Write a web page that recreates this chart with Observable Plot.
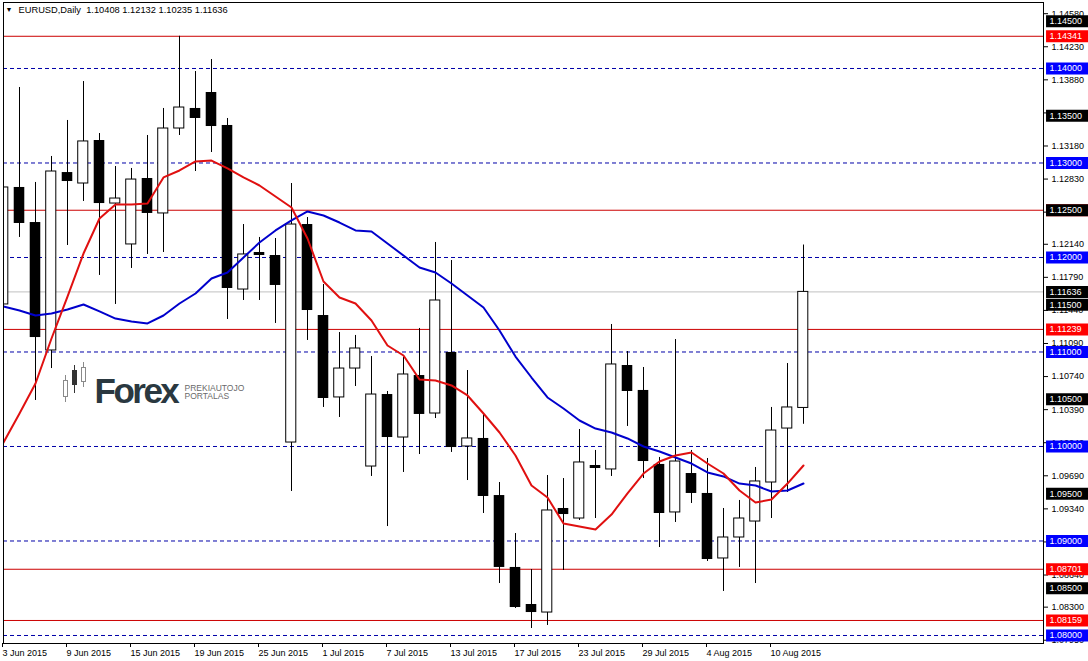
<!DOCTYPE html>
<html><head><meta charset="utf-8">
<script src="https://cdn.jsdelivr.net/npm/d3@7"></script>
<script src="https://cdn.jsdelivr.net/npm/@observablehq/plot@0.6"></script>
<style>
html,body{margin:0;padding:0;background:#fff;}
#chart svg{display:block;}
</style></head><body><div id="chart"></div>
<script>
const dates = ["2015-06-03","2015-06-04","2015-06-05","2015-06-08","2015-06-09","2015-06-10","2015-06-11","2015-06-12","2015-06-15","2015-06-16","2015-06-17","2015-06-18","2015-06-19","2015-06-22","2015-06-23","2015-06-24","2015-06-25","2015-06-26","2015-06-29","2015-06-30","2015-07-01","2015-07-02","2015-07-03","2015-07-06","2015-07-07","2015-07-08","2015-07-09","2015-07-10","2015-07-13","2015-07-14","2015-07-15","2015-07-16","2015-07-17","2015-07-20","2015-07-21","2015-07-22","2015-07-23","2015-07-24","2015-07-27","2015-07-28","2015-07-29","2015-07-30","2015-07-31","2015-08-03","2015-08-04","2015-08-05","2015-08-06","2015-08-07","2015-08-10","2015-08-11","2015-08-12"];
const open = [1.11503,1.12741,1.12370,1.11016,1.12899,1.12783,1.13238,1.12571,1.12138,1.12836,1.12466,1.13365,1.13577,1.13746,1.13397,1.11661,1.12053,1.12021,1.10042,1.12349,1.11386,1.10519,1.10825,1.09788,1.10550,1.10095,1.10751,1.10349,1.10995,1.10000,1.10085,1.09481,1.08720,1.08328,1.08243,1.09344,1.09238,1.09799,1.09757,1.10857,1.10593,1.09810,1.09302,1.09714,1.09503,1.08815,1.09037,1.09206,1.09619,1.10190,1.10408];
const high = [1.12847,1.13799,1.12794,1.13069,1.13450,1.13862,1.13312,1.12963,1.12942,1.13291,1.13577,1.14341,1.13968,1.14095,1.13471,1.12349,1.12212,1.12201,1.12783,1.12423,1.11714,1.11206,1.11175,1.10952,1.10582,1.10942,1.11249,1.12159,1.11968,1.10804,1.10349,1.09619,1.09079,1.08698,1.09693,1.09661,1.10180,1.09958,1.11291,1.11005,1.10836,1.09884,1.11132,1.09958,1.09873,1.09344,1.09429,1.09778,1.10413,1.10878,1.12132];
const low = [1.10825,1.12212,1.10487,1.10825,1.12127,1.12593,1.11810,1.11503,1.11884,1.12032,1.12053,1.13291,1.12910,1.13111,1.11344,1.11545,1.11545,1.11302,1.09524,1.11122,1.10413,1.10307,1.10635,1.09683,1.09153,1.09725,1.09915,1.10296,1.09937,1.09640,1.09291,1.08550,1.08286,1.08074,1.08106,1.08688,1.09217,1.09238,1.09683,1.10212,1.09661,1.08931,1.09196,1.09397,1.08783,1.08466,1.08720,1.08550,1.09238,1.09513,1.10235];
const close = [1.12741,1.12360,1.11153,1.12910,1.12804,1.13228,1.12571,1.12624,1.12825,1.12466,1.13365,1.13587,1.13471,1.13386,1.11672,1.12032,1.12021,1.11704,1.12349,1.11439,1.10508,1.10825,1.11037,1.10550,1.10095,1.10762,1.10339,1.11545,1.09989,1.10085,1.09471,1.08720,1.08296,1.08243,1.09323,1.09280,1.09831,1.09767,1.10868,1.10582,1.09841,1.09291,1.09841,1.09503,1.08804,1.09037,1.09238,1.09630,1.10169,1.10413,1.11636];
const maFast = [1.10042,1.10349,1.10667,1.11143,1.11587,1.12042,1.12413,1.12561,1.12561,1.12571,1.12847,1.12921,1.13016,1.13026,1.12942,1.12847,1.12762,1.12646,1.12529,1.12201,1.11746,1.11577,1.11513,1.11333,1.11069,1.10963,1.10709,1.10698,1.10646,1.10540,1.10349,1.10148,1.09905,1.09587,1.09460,1.09185,1.09153,1.09122,1.09280,1.09503,1.09714,1.09841,1.09905,1.09937,1.09820,1.09714,1.09534,1.09407,1.09439,1.09608,1.09799];
const maSlow = [1.11481,1.11439,1.11386,1.11407,1.11450,1.11503,1.11429,1.11354,1.11323,1.11302,1.11386,1.11513,1.11619,1.11778,1.11841,1.12000,1.12159,1.12286,1.12392,1.12487,1.12444,1.12370,1.12286,1.12275,1.12148,1.12021,1.11894,1.11841,1.11725,1.11598,1.11471,1.11228,1.10952,1.10730,1.10519,1.10402,1.10275,1.10190,1.10148,1.10085,1.10000,1.09947,1.09884,1.09820,1.09725,1.09683,1.09608,1.09587,1.09524,1.09534,1.09608];
const tickLabels = ["3 Jun 2015","9 Jun 2015","15 Jun 2015","19 Jun 2015","25 Jun 2015","1 Jul 2015","7 Jul 2015","13 Jul 2015","17 Jul 2015","23 Jul 2015","29 Jul 2015","4 Aug 2015","10 Aug 2015"];
const tickDates = ["2015-06-03","2015-06-09","2015-06-15","2015-06-19","2015-06-25","2015-07-01","2015-07-07","2015-07-13","2015-07-17","2015-07-23","2015-07-29","2015-08-04","2015-08-10"];
const priceTicks = [1.14580,1.14230,1.13880,1.13530,1.13180,1.12830,1.12480,1.12140,1.11790,1.11440,1.11090,1.10740,1.10390,1.10040,1.09690,1.09340,1.08990,1.08640,1.08300,1.07950];
const hiddenTicks = [1.13530,1.12480,1.08990];
const redLevels = [1.14341,1.12500,1.11239,1.08701,1.08159];
const blueLevels = [1.14000,1.13000,1.12000,1.11000,1.10000,1.09000,1.08000];
const blackLevels = [1.14500,1.13500,1.12500,1.11500,1.10500,1.09500,1.08500];
const lastPrice = [1.11636];
const symbol = "EURUSD,Daily";
const titleOHLC = [1.10408,1.12132,1.10235,1.11636];

const bars = dates.map((d, i) => ({i, date: d, o: open[i], h: high[i], l: low[i], c: close[i], fast: maFast[i], slow: maSlow[i]}));
const idxOf = new Map(dates.map((d, i) => [d, i]));
const tickIdx = tickDates.map(d => idxOf.get(d));
const labelOf = new Map(tickIdx.map((k, j) => [k, tickLabels[j]]));

const boxX1 = 65.19, boxX2 = 68.2;
const labelBoxes = (levels, color) => [
  Plot.ruleY(levels, {x1: boxX1, x2: boxX2, stroke: color, strokeWidth: 12}),
  Plot.text(levels, {x: boxX1, y: d => d, text: d => d.toFixed(5), fill: "#fff", textAnchor: "start", dx: 3, fontSize: 9})
];

const chart = Plot.plot({
  width: 1088, height: 661,
  marginLeft: 3, marginRight: 45, marginTop: 2, marginBottom: 18,
  x: {domain: [0, 65], label: null},
  y: {domain: [1.079153, 1.146984], label: null},
  style: {fontFamily: "'Liberation Sans', Arial, sans-serif", fontSize: "9px", background: "#fff", color: "#000"},
  marks: [
    Plot.ruleY(lastPrice, {stroke: "#c0c0c0"}),
    Plot.ruleY(blueLevels, {stroke: "#0000a8", strokeDasharray: "4,3"}),
    Plot.ruleY(redLevels, {stroke: "#cc0000"}),
    Plot.ruleX(bars, {x: "i", y1: "l", y2: "h", stroke: "#000", clip: true}),
    Plot.rect(bars, {filter: d => d.c >= d.o, x1: d => d.i - 0.33, x2: d => d.i + 0.3, y1: "o", y2: "c", fill: "#fff", stroke: "#000", clip: true}),
    Plot.rect(bars, {filter: d => d.c < d.o, x1: d => d.i - 0.33, x2: d => d.i + 0.33, y1: "o", y2: "c", fill: "#000", clip: true}),
    Plot.line(bars, {x: "i", y: "slow", stroke: "#0000cc", strokeWidth: 2, clip: true}),
    Plot.line(bars, {x: "i", y: "fast", stroke: "#e01010", strokeWidth: 2, clip: true}),
    Plot.frame({stroke: "#000"}),
    Plot.axisY(priceTicks, {anchor: "right", tickSize: 4, tickPadding: 4, tickFormat: d => hiddenTicks.includes(d) ? "" : d.toFixed(5), label: null}),
    Plot.axisX(tickIdx, {anchor: "bottom", tickSize: 4, tickPadding: 2, tickFormat: d => labelOf.get(d), textAnchor: "start", dx: -1, label: null}),
    ...labelBoxes(redLevels, "#ff0000"),
    ...labelBoxes(blueLevels, "#0000ff"),
    ...labelBoxes(blackLevels, "#000000"),
    ...labelBoxes(lastPrice, "#000000"),
    Plot.text(["\u25BC"], {frameAnchor: "top-left", dx: 2, dy: 5, text: d => d, fontSize: 7, lineAnchor: "top", textAnchor: "start"}),
    Plot.text([symbol + "\u00a0\u00a0" + titleOHLC.map(v => v.toFixed(5)).join(" ")], {frameAnchor: "top-left", dx: 15, dy: 4, text: d => d, lineAnchor: "top", textAnchor: "start", fontSize: 9.3}),
    Plot.text(["Forex"], {frameAnchor: "top-left", dx: 91, dy: 389, text: d => d, fontSize: 35, fontWeight: "bold", fill: "#2a3840", textAnchor: "start", lineAnchor: "middle", className: "logo-main"}),
    Plot.text(["PREKIAUTOJO"], {frameAnchor: "top-left", dx: 181, dy: 386, text: d => d, fontSize: 8.5, fill: "#6a6a6a", textAnchor: "start", lineAnchor: "middle"}),
    Plot.text(["PORTALAS"], {frameAnchor: "top-left", dx: 181, dy: 394, text: d => d, fontSize: 8.5, fill: "#6a6a6a", textAnchor: "start", lineAnchor: "middle"})
  ]
});
document.getElementById("chart").appendChild(chart);

// watermark candle icon (decoration)
const svg = d3.select(chart);
svg.selectAll("g.logo-main text, text.logo-main").attr("letter-spacing", "-2.5");
const icon = svg.append("g").attr("fill", "none").attr("stroke", "#8a8a8a");
icon.append("line").attr("x1", 65.5).attr("x2", 65.5).attr("y1", 375).attr("y2", 402);
icon.append("rect").attr("x", 63.5).attr("y", 380.5).attr("width", 4).attr("height", 16).attr("fill", "#fff");
icon.append("line").attr("x1", 74.5).attr("x2", 74.5).attr("y1", 365).attr("y2", 393).attr("stroke", "#333");
icon.append("rect").attr("x", 72).attr("y", 370).attr("width", 5).attr("height", 15).attr("fill", "#333").attr("stroke", "none");
icon.append("line").attr("x1", 83.5).attr("x2", 83.5).attr("y1", 362).attr("y2", 387);
icon.append("rect").attr("x", 81.5).attr("y", 367.5).attr("width", 4).attr("height", 14).attr("fill", "#fff");
</script>
</body></html>
